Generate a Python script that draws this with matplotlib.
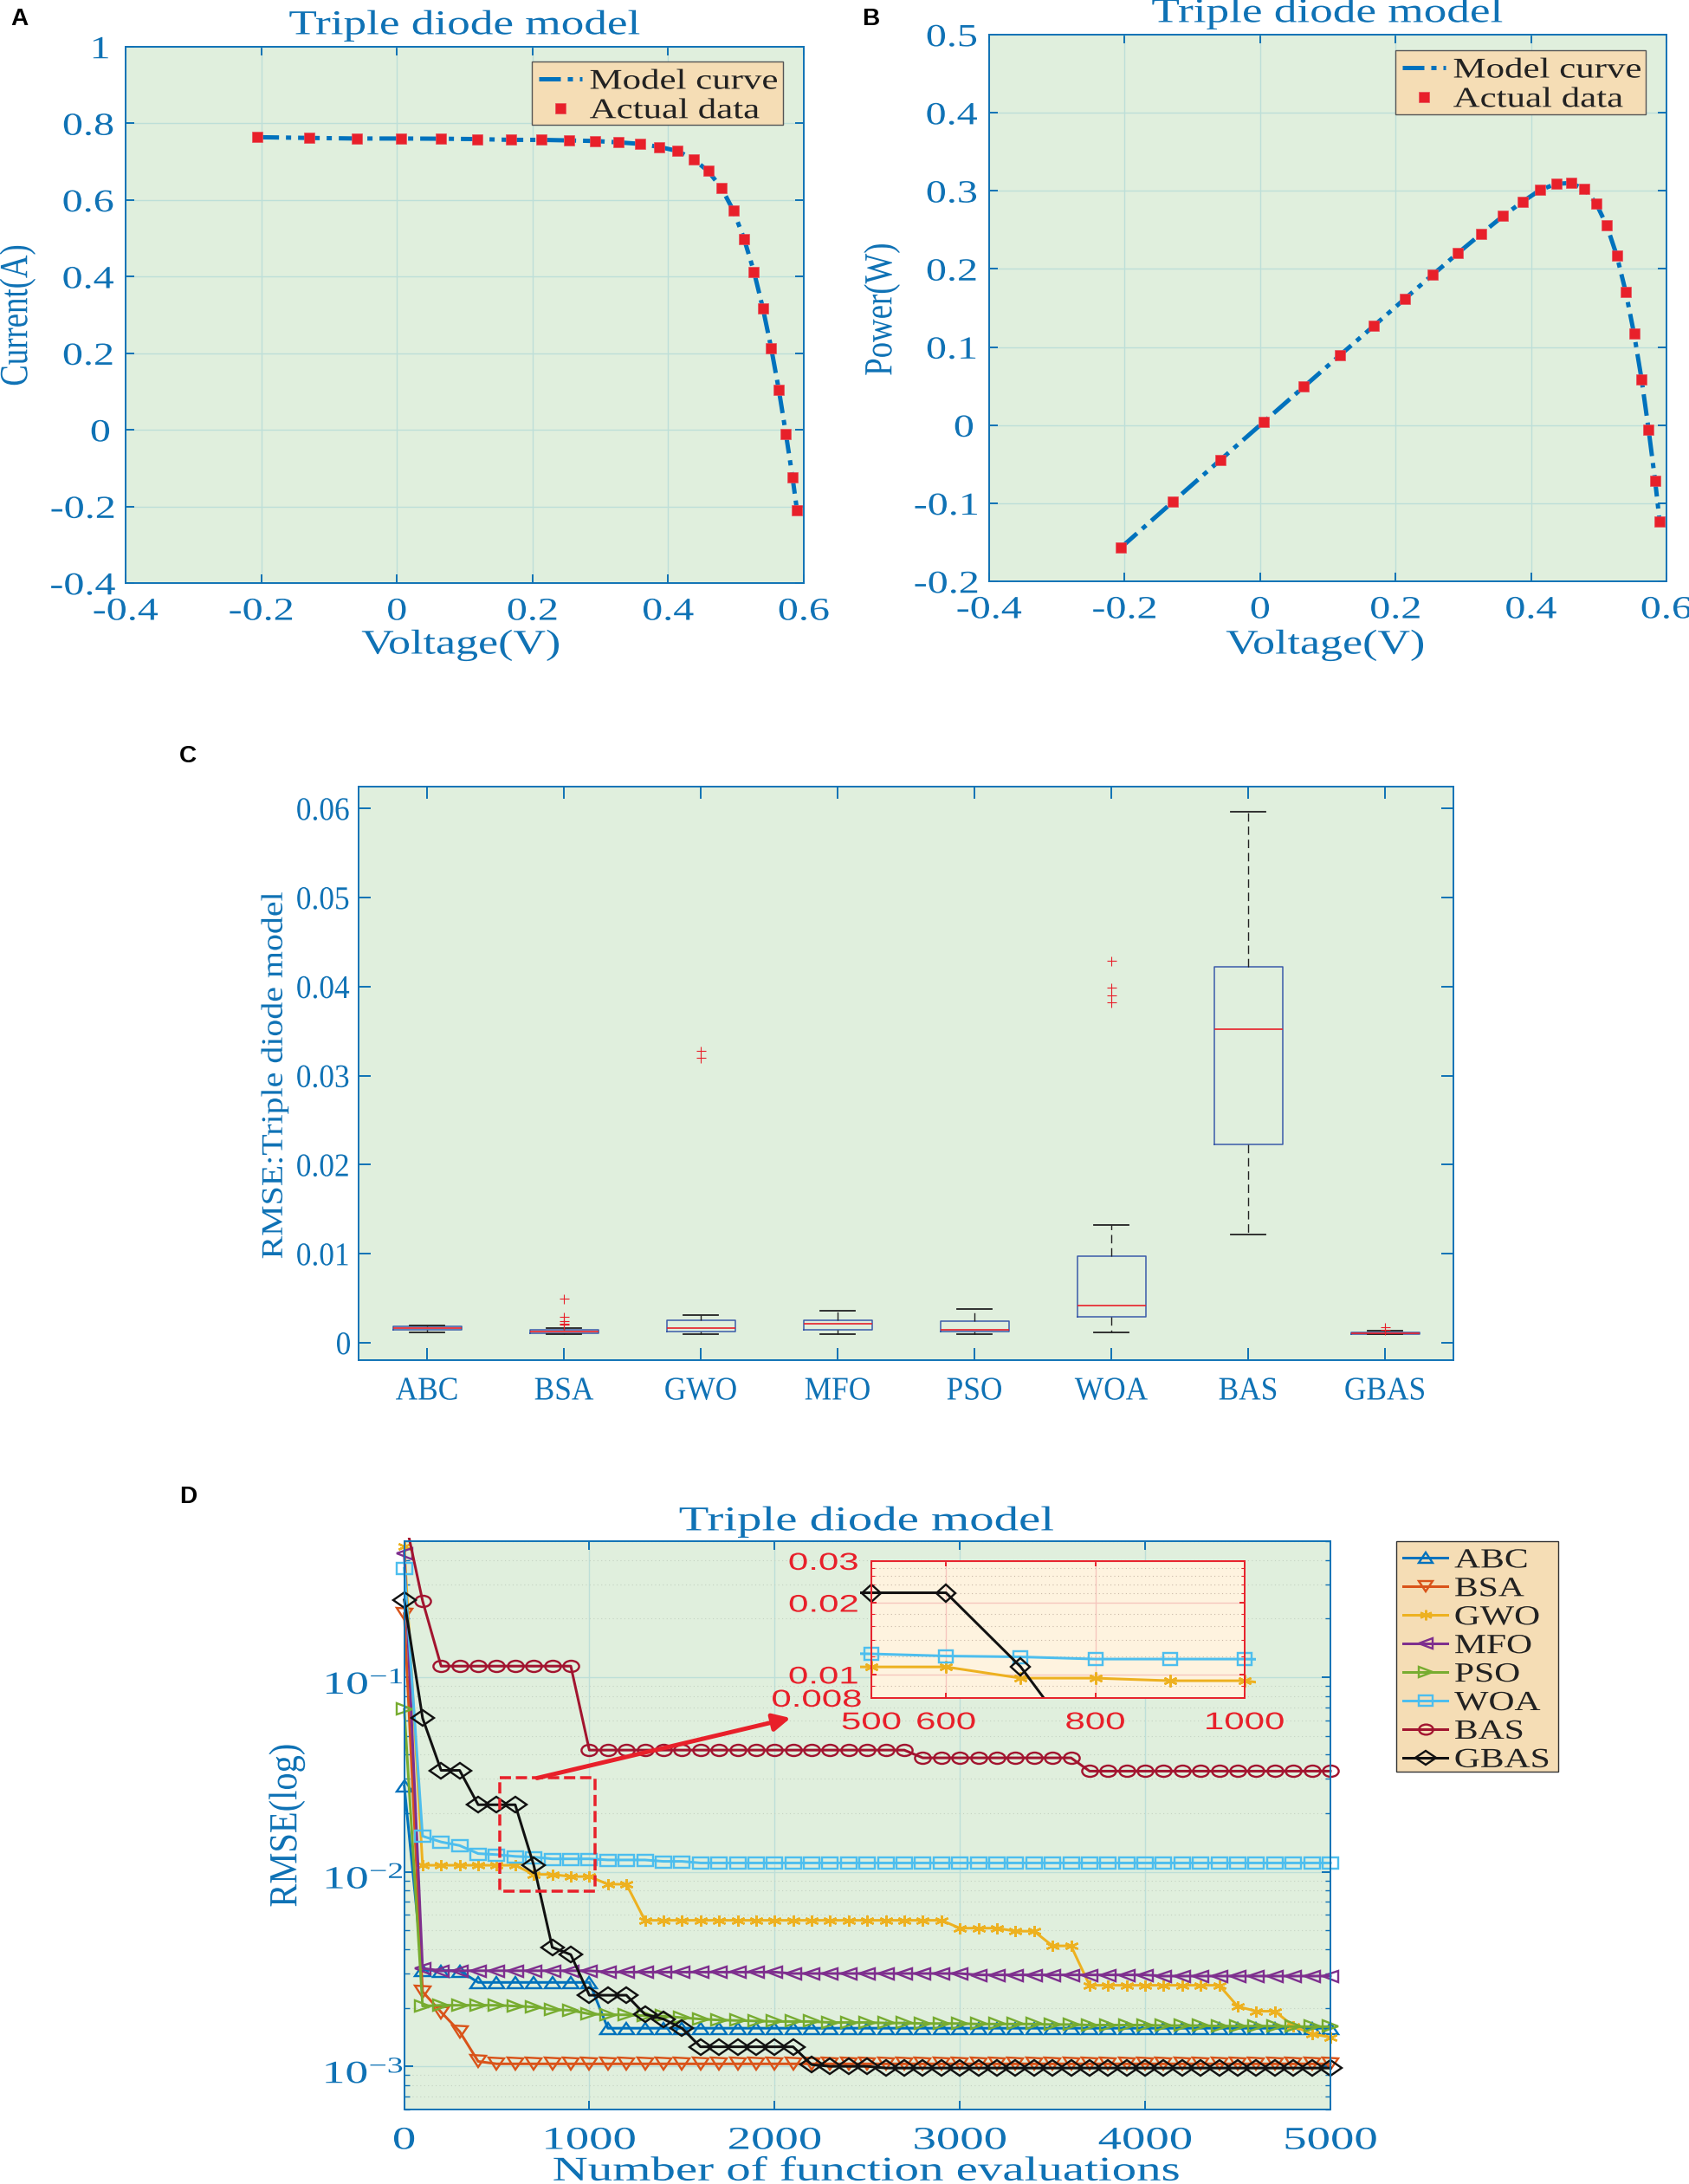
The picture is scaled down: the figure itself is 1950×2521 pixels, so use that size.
import matplotlib
matplotlib.use('Agg')
import matplotlib.pyplot as plt
from matplotlib.markers import MarkerStyle
from matplotlib.patches import Rectangle
from matplotlib.patheffects import AbstractPathEffect
from matplotlib.ticker import LogLocator, NullFormatter
from matplotlib.transforms import Affine2D

W, H = 1950, 2521
BLUE = '#0F72B5'
RED = '#E8202A'
GREEN_BG = '#E0EFDD'
WHEAT = '#F5DDB5'
GRID = '#BDDFD8'

plt.rcParams['font.family'] = ['Liberation Serif']
plt.rcParams['mathtext.fontset'] = 'custom'
plt.rcParams['mathtext.rm'] = 'Liberation Serif'
plt.rcParams['mathtext.default'] = 'regular'
plt.rcParams['axes.unicode_minus'] = False

# panels A and B
voltage = [-0.2057, -0.1291, -0.0588, 0.0057, 0.0646, 0.1185, 0.1678, 0.2132, 0.2545, 0.2924,
           0.3269, 0.3585, 0.3873, 0.4137, 0.4373, 0.4590, 0.4784, 0.4960, 0.5119, 0.5265,
           0.5398, 0.5521, 0.5633, 0.5736, 0.5833, 0.5900]
current = [0.764, 0.762, 0.7605, 0.7605, 0.760, 0.759, 0.757, 0.757, 0.7555, 0.754,
           0.7505, 0.7465, 0.7385, 0.728, 0.7065, 0.6755, 0.632, 0.573, 0.499, 0.413,
           0.3165, 0.212, 0.1035, -0.01, -0.123, -0.21]
power = [-0.157, -0.0984, -0.0447, 0.0043, 0.0491, 0.0899, 0.127, 0.1614, 0.1923, 0.2205,
         0.2453, 0.2676, 0.286, 0.3012, 0.309, 0.31, 0.3023, 0.2842, 0.2554, 0.2174,
         0.1708, 0.1171, 0.0583, -0.0057, -0.0717, -0.1239]

# panel C
algos = ['ABC', 'BSA', 'GWO', 'MFO', 'PSO', 'WOA', 'BAS', 'GBAS']
whis_lo = [0.00117, 0.00097, 0.00097, 0.00097, 0.00097, 0.00117, 0.01216, 0.00095]
q1 = [0.00143, 0.00104, 0.00123, 0.00143, 0.0013, 0.00292, 0.0223, 0.00097]
med = [0.00162, 0.00123, 0.00169, 0.0021, 0.00146, 0.00422, 0.0352, 0.00107]
q3 = [0.00182, 0.00143, 0.0025, 0.0025, 0.00243, 0.00973, 0.04225, 0.0012]
whis_hi = [0.00198, 0.00169, 0.00315, 0.00357, 0.00383, 0.01323, 0.0596, 0.00133]
fliers = [[], [0.005, 0.0029, 0.0024, 0.0021, 0.002], [0.0328, 0.032], [], [],
          [0.0429, 0.0399, 0.039, 0.0382], [], [0.0017, 0.0015]]

# panel D
evals = [1] + list(range(100, 5001, 100))
abc = [0.0277, 0.00313, 0.0031, 0.0031] + [0.0027] * 7 + [0.00157] * 40
bsa = [0.212, 0.00242, 0.0019, 0.00151, 0.00106] + [0.00103] * 46
gwo = [0.468, 0.0108, 0.0108, 0.0108, 0.0108, 0.0108, 0.0108, 0.00969, 0.00969, 0.00945, 0.00945,
       0.00863, 0.00863] + [0.00563] * 17 + [0.00513, 0.00513, 0.00513, 0.00495, 0.00495,
       0.00416, 0.00416] + [0.00261] * 8 + [0.00203, 0.00192, 0.00192, 0.00161, 0.00147, 0.00141]
mfo = [0.434, 0.00319, 0.0031, 0.0031, 0.0031, 0.0031, 0.0031, 0.0031, 0.0031, 0.0031, 0.0031,
       0.00305, 0.00305, 0.00305, 0.00305, 0.00305, 0.00305, 0.00305, 0.00305, 0.00305, 0.00305,
       0.003, 0.003, 0.003, 0.003, 0.003, 0.003, 0.003, 0.003, 0.003, 0.003,
       0.00295, 0.00295, 0.00295, 0.00295, 0.00295, 0.00295, 0.00295, 0.00295, 0.00295, 0.00295,
       0.00291, 0.00291, 0.00291, 0.00291, 0.00291, 0.00291, 0.00291, 0.00291, 0.00291, 0.00291]
pso = [0.0684, 0.00204, 0.00206, 0.00206, 0.00206, 0.00206, 0.00204, 0.00202, 0.00196, 0.00194,
       0.00186, 0.00184, 0.00184, 0.00182, 0.00181, 0.00178, 0.00175, 0.00173, 0.00172, 0.00171,
       0.0017, 0.0017, 0.0017, 0.00168, 0.00168, 0.00168, 0.00167, 0.00167, 0.00166, 0.00166,
       0.00166, 0.00165, 0.00165, 0.00165, 0.00165, 0.00164, 0.00164, 0.00163, 0.00163, 0.00163,
       0.00163, 0.00162, 0.00162, 0.00162, 0.00161, 0.00161, 0.00161, 0.00161, 0.0016, 0.0016, 0.0016]
woa = [0.363, 0.01524, 0.01423, 0.01364, 0.0124, 0.01225, 0.012, 0.0119, 0.01165, 0.01165, 0.01165,
       0.0115, 0.0115, 0.0115, 0.01131, 0.01131] + [0.0111] * 35
bas = [0.68, 0.2466] + [0.114] * 8 + [0.0422] * 18 + [0.0385] * 9 + [0.0329] * 14
gbas = [0.2495, 0.0616, 0.0332, 0.0332, 0.0221, 0.0221, 0.0221, 0.01081, 0.00409, 0.00375,
        0.00232, 0.00232, 0.00232, 0.00185, 0.00175, 0.00157] + [0.00126] * 6 + [0.00102, 0.001,
        0.001, 0.001] + [0.00098] * 25

series = [('ABC', abc, '#0072BD', '^'), ('BSA', bsa, '#D95319', 'v'), ('GWO', gwo, '#EDB120', (6, 2, 0)),
          ('MFO', mfo, '#7E2F8E', '<'), ('PSO', pso, '#77AC30', '>'), ('WOA', woa, '#4DBEEE', 's'),
          ('BAS', bas, '#A2142F', 'o'), ('GBAS', gbas, '#111111', 'D')]


class Stretch(AbstractPathEffect):
    # the source figure has its text pulled wider than the font
    def __init__(self, sx=1.0, sy=1.0, left=False, dy=0):
        super().__init__()
        self.sx, self.sy, self.left, self.dy = sx, sy, left, dy

    def draw_path(self, renderer, gc, tpath, affine, rgbFace=None):
        b = tpath.get_extents(affine)
        cx = b.x0 if self.left else (b.x0 + b.x1) / 2
        cy = (b.y0 + b.y1) / 2
        a = affine + Affine2D().translate(-cx, -cy).scale(self.sx, self.sy).translate(cx, cy + self.dy)
        renderer.draw_path(gc, tpath, a, rgbFace)


def pt(px):
    return px * 0.72


def wide_marker(mk, sx):
    # markers in the figure are wider than tall too
    return MarkerStyle(mk, fillstyle='none', transform=Affine2D().scale(sx, 1))


def make_axes(left, top, right, bottom, fc=GREEN_BG):
    ax = fig.add_axes([left / W, 1 - bottom / H, (right - left) / W, (bottom - top) / H], facecolor=fc)
    return ax


def style(ax, color=BLUE, tick_len=10):
    for s in ax.spines.values():
        s.set_color(color)
        s.set_linewidth(1.4)
    ax.tick_params(which='major', direction='in', top=True, right=True, color=color,
                   labelcolor=color, length=pt(tick_len), width=1.4)


def stretch_ticks(ax, sx):
    for t in ax.get_xticklabels() + ax.get_yticklabels():
        t.set_path_effects([Stretch(sx)])


def px_box(ax, x, y):
    # axes fraction of a figure pixel
    b = ax.get_position()
    return ((x / W - b.x0) / b.width, ((1 - y / H) - b.y0) / b.height)


def labels(ax, title, xl, yl, title_xy, xl_xy, yl_xy, size, title_sx, xl_sx, yl_sy, yl_size=None, title_dy=0):
    if title:
        fx, fy = px_box(ax, *title_xy)
        t = ax.set_title(title, fontsize=size, color=BLUE, va='center', x=fx, y=fy)
        t.set_path_effects([Stretch(title_sx, dy=title_dy)])
    if xl:
        ax.set_xlabel(xl, fontsize=size, color=BLUE, va='center')
        ax.xaxis.set_label_coords(*px_box(ax, *xl_xy))
        ax.xaxis.label.set_path_effects([Stretch(xl_sx)])
    ax.set_ylabel(yl, fontsize=yl_size or size, color=BLUE, va='center')
    ax.yaxis.set_label_coords(*px_box(ax, *yl_xy))
    ax.yaxis.label.set_path_effects([Stretch(1.0, yl_sy)])


def iv_panel(box, y, ylim, yticks, yticklabels, ylabel, title_xy, xl_xy, yl_xy, frame, leg_xy, title_dy=0):
    ax = make_axes(*box)
    ax.plot(voltage, y, ls=(0, (5, 1.6, 1.2, 1.6)), color='#0072BD', lw=pt(5), label='Model curve')
    ax.plot(voltage, y, 's', color=RED, ms=pt(12.5), mec='#E8505A', mew=0.5, ls='none', label='Actual data')
    ax.set_xlim(-0.4, 0.6)
    ax.set_ylim(*ylim)
    ax.set_xticks([-0.4, -0.2, 0, 0.2, 0.4, 0.6], ['-0.4', '-0.2', '0', '0.2', '0.4', '0.6'])
    ax.set_yticks(yticks, yticklabels)
    ax.grid(True, color=GRID, lw=1)
    ax.set_axisbelow(True)
    style(ax)
    ax.tick_params(axis='both', labelsize=pt(37), pad=pt(20))
    ax.tick_params(axis='x', pad=pt(16))
    stretch_ticks(ax, 1.3)
    labels(ax, 'Triple diode model', 'Voltage(V)', ylabel, title_xy, xl_xy, yl_xy, pt(40), 1.33, 1.3, 0.8, pt(46),
           title_dy=title_dy)
    fl, ft, fr, fb = frame
    ax.add_patch(Rectangle((fl / W, 1 - fb / H), (fr - fl) / W, (fb - ft) / H, transform=fig.transFigure,
                           fc=WHEAT, ec='#555555', lw=1, zorder=4.5, clip_on=False))
    leg = ax.legend(loc='upper left', bbox_to_anchor=(leg_xy[0] / W, 1 - leg_xy[1] / H),
                    bbox_transform=fig.transFigure, frameon=False, fontsize=pt(33), borderaxespad=0,
                    borderpad=0, handlelength=1.5, handletextpad=0.28, labelspacing=0.1)
    for t in leg.get_texts():
        t.set_color('#222222')
        t.set_path_effects([Stretch(1.3, left=True)])
    return ax


fig = plt.figure(figsize=(W / 100, H / 100), dpi=100)

iv_panel((145, 54, 928, 673), current, (-0.4, 1), [-0.4, -0.2, 0, 0.2, 0.4, 0.6, 0.8, 1],
         ['-0.4', '-0.2', '0', '0.2', '0.4', '0.6', '0.8', '1'], 'Current(A)',
         (536, 38), (532, 745), (20, 364), (614, 71, 904, 144), (622, 79))
iv_panel((1142, 40, 1924, 671), power, (-0.2, 0.5), [-0.2, -0.1, 0, 0.1, 0.2, 0.3, 0.4, 0.5],
         ['-0.2', '-0.1', '0', '0.1', '0.2', '0.3', '0.4', '0.5'], 'Power(W)',
         (1532, 36), (1530, 745), (1018, 357), (1611, 58, 1900, 132), (1619, 66), title_dy=12)

# panel C
ax_c = make_axes(414, 908, 1678, 1570)
stats = []
for i, name in enumerate(algos):
    stats.append(dict(label=name, whislo=whis_lo[i], q1=q1[i], med=med[i], q3=q3[i],
                      whishi=whis_hi[i], fliers=fliers[i]))
ax_c.bxp(stats, positions=list(range(1, 9)), widths=0.5, capwidths=0.25,
         boxprops=dict(color='#3B5BA9', lw=1.1), medianprops=dict(color=RED, lw=1.2),
         whiskerprops=dict(color='#222222', lw=1, ls=(0, (7, 4))), capprops=dict(color='#222222', lw=1.3),
         flierprops=dict(marker='+', markeredgecolor=RED, markersize=pt(11), markeredgewidth=0.8, ls='none'))
ax_c.set_xlim(0.5, 8.5)
ax_c.set_ylim(-0.00195, 0.06245)
ax_c.set_yticks([0, 0.01, 0.02, 0.03, 0.04, 0.05, 0.06], ['0', '0.01', '0.02', '0.03', '0.04', '0.05', '0.06'])
style(ax_c, tick_len=14)
ax_c.tick_params(axis='both', labelsize=pt(38))
ax_c.tick_params(axis='y', pad=pt(8))
ax_c.tick_params(axis='x', pad=pt(19))
stretch_ticks(ax_c, 0.93)
labels(ax_c, None, None, 'RMSE:Triple diode model', None, None, (317, 1241), pt(35), 1, 1, 1.14)

# panel D
ax_d = make_axes(466.5, 1779, 1536, 2435)
clip = Rectangle((-0.02, 0), 1.04, 1.006, transform=ax_d.transAxes)
for name, vals, col, mk in series:
    is_star = mk == (6, 2, 0)
    line, = ax_d.plot(evals, vals, color=col, lw=pt(3), marker=wide_marker(mk, 1.25 if is_star else 1.4),
                      ms=pt(13), mec=col, mew=pt(2.4), label=name)
    line.set_clip_path(clip)
ax_d.set_yscale('log')
ax_d.set_xlim(0, 5000)
ax_d.set_ylim(0.0006, 0.5)
ax_d.set_xticks([0, 1000, 2000, 3000, 4000, 5000], ['0', '1000', '2000', '3000', '4000', '5000'])
ax_d.set_yticks([0.001, 0.01, 0.1], ['$10^{-3}$', '$10^{-2}$', '$10^{-1}$'])
ax_d.yaxis.set_minor_locator(LogLocator(base=10, subs=range(2, 10), numticks=10))
ax_d.yaxis.set_minor_formatter(NullFormatter())
ax_d.grid(True, which='major', color=GRID, lw=1)
ax_d.grid(True, which='minor', axis='y', color='#C4D2C2', lw=0.8, ls=(0, (1, 3)))
ax_d.set_axisbelow(True)
style(ax_d)
ax_d.tick_params(which='minor', direction='in', right=True, color=BLUE, length=pt(6), width=1)
ax_d.tick_params(axis='both', labelsize=pt(37))
ax_d.tick_params(axis='y', pad=pt(14))
ax_d.tick_params(axis='x', pad=pt(2))
for t in ax_d.get_xticklabels():
    t.set_path_effects([Stretch(1.48, dy=-17)])
for t in ax_d.get_yticklabels():
    t.set_path_effects([Stretch(1.45, dy=-6)])
labels(ax_d, 'Triple diode model', 'Number of function evaluations', 'RMSE(log)',
       (1000, 1765), (1000, 2500), (331, 2107), pt(40), 1.42, 1.58, 0.88, pt(46))
ax_d.xaxis.label.set_fontsize(pt(36))
ax_d.xaxis.label.set_path_effects([Stretch(1.58, 1.1, dy=-7)])

# zoomed region marker and arrow
ax_d.plot([515, 1030, 1030, 515, 515], [0.0303, 0.0303, 0.00797, 0.00797, 0.0303], color=RED, lw=pt(3.5), ls='--')
ax_d.annotate('', xy=(2086, 0.0617), xytext=(718, 0.0303),
              arrowprops=dict(arrowstyle='-|>', color=RED, lw=pt(5), mutation_scale=30, shrinkA=0, shrinkB=0))

fig.add_artist(Rectangle((1612 / W, 1 - 2045 / H), 187 / W, 266 / H, transform=fig.transFigure,
                         fc=WHEAT, ec='#333333', lw=1, zorder=-1))
leg_d = ax_d.legend(loc='upper left', bbox_to_anchor=(1620 / W, 1 - 1787 / H), bbox_transform=fig.transFigure,
                    frameon=False, fontsize=pt(32), borderaxespad=0, borderpad=0, handlelength=1.6,
                    handletextpad=0.25, labelspacing=0.11, markerscale=0.9)
for t in leg_d.get_texts():
    t.set_color('#222222')
    t.set_path_effects([Stretch(1.3, left=True)])

# inset
ax_i = make_axes(1006, 1802, 1437, 1960, fc='#FEF3DF')
clip_i = Rectangle((-0.03, 0), 1.06, 1, transform=ax_i.transAxes)
for name, vals, col, mk in series:
    if name in ('GWO', 'WOA', 'GBAS'):
        line, = ax_i.plot(evals, vals, color=col, lw=pt(3), marker=wide_marker(mk, 1.15), ms=pt(14),
                          mec=col, mew=pt(2.4))
        line.set_clip_path(clip_i)
ax_i.set_yscale('log')
ax_i.set_xlim(500, 1000)
ax_i.set_ylim(0.008, 0.03)
ax_i.set_xticks([500, 600, 800, 1000], ['500', '600', '800', '1000'])
ax_i.set_yticks([0.008, 0.01, 0.02, 0.03], ['0.008', '0.01', '0.02', '0.03'])
ax_i.minorticks_off()
ax_i.set_yticks([0.009, 0.012, 0.014, 0.016, 0.018, 0.022, 0.024, 0.026, 0.028], minor=True)
ax_i.yaxis.set_minor_formatter(NullFormatter())
ax_i.grid(True, which='major', color='#F6C6BE', lw=1)
ax_i.grid(True, which='minor', axis='y', color='#C9B9A8', lw=0.8, ls=(0, (1, 3)))
ax_i.set_axisbelow(True)
style(ax_i, color=RED, tick_len=6)
ax_i.tick_params(which='minor', direction='in', right=True, color=RED, length=pt(4), width=0.8)
ax_i.tick_params(axis='both', labelsize=pt(28), pad=pt(28))
ax_i.tick_params(axis='x', pad=pt(16))
for t in ax_i.get_xticklabels() + ax_i.get_yticklabels():
    t.set_fontfamily('Liberation Sans')
    t.set_path_effects([Stretch(1.5)])

# panel letters
for letter, x, y in [('A', 22, 22), ('B', 1005, 22), ('C', 217, 873), ('D', 217, 1728)]:
    fig.text(x / W, 1 - y / H, letter, family='Liberation Sans', weight='bold', fontsize=pt(28),
             color='black', ha='center', va='center')

fig.savefig('out.png', dpi=100)
